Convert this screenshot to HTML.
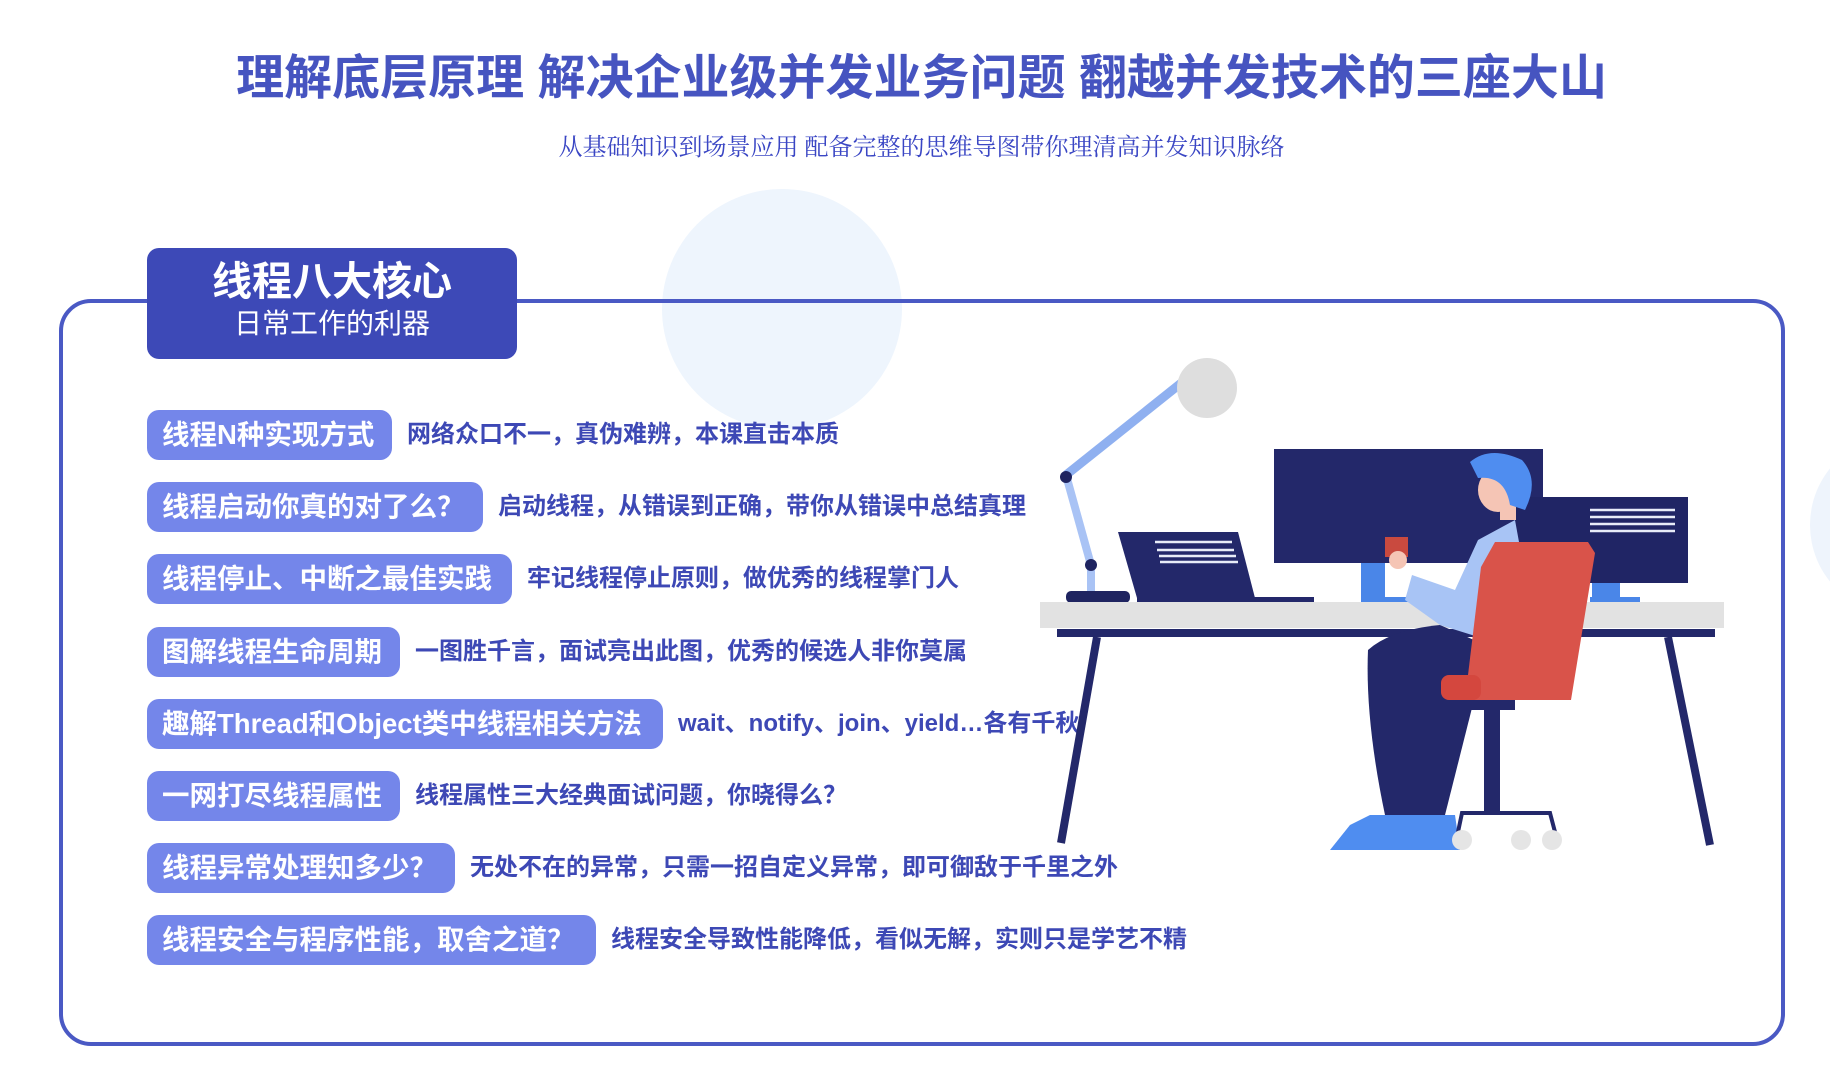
<!DOCTYPE html>
<html><head><meta charset="utf-8"><style>
body{margin:0;width:1830px;height:1074px;background:#fff;position:relative;overflow:hidden;font-family:"Liberation Sans","Noto Sans CJK SC",sans-serif}
.a{position:absolute}
.t{left:0;width:1843px;text-align:center;top:49px;font-size:48px;font-weight:bold;color:#4654c0;line-height:60px;white-space:nowrap}
.s{left:0;width:1843px;text-align:center;top:133px;font-size:24px;color:#3a46c4;line-height:30px;font-family:"Liberation Serif","Noto Serif CJK SC",serif}
.pill{position:absolute;left:147px;height:50px;border-radius:12px;background:#7486ea;color:#fff;font-size:27.5px;font-weight:bold;line-height:50px;padding-left:15px;box-sizing:border-box;white-space:nowrap}
.d{position:absolute;font-size:24px;font-weight:bold;color:#3d48b5;line-height:50px;white-space:nowrap}
</style></head><body>
<div class="a" style="left:662px;top:189px;width:240px;height:240px;border-radius:50%;background:#eef5fd"></div>
<div class="a" style="left:1810px;top:435px;width:180px;height:180px;border-radius:50%;background:#eef4fc"></div>
<div class="a t">理解底层原理 解决企业级并发业务问题 翻越并发技术的三座大山</div>
<div class="a s">从基础知识到场景应用 配备完整的思维导图带你理清高并发知识脉络</div>
<div class="a" style="left:59px;top:299px;width:1726px;height:747px;box-sizing:border-box;border:4.5px solid #4a59c4;border-radius:32px"></div>
<div class="a" style="left:147px;top:248px;width:370px;height:111px;background:#3d49b7;border-radius:12px;color:#fff;text-align:center">
<div style="font-size:40px;font-weight:bold;line-height:44px;margin-top:12px">线程八大核心</div>
<div style="font-size:28px;line-height:34px;margin-top:3px">日常工作的利器</div></div>

<div class="pill" style="top:410px;width:245px">线程N种实现方式</div><div class="d" style="top:410px;left:407px">网络众口不一，真伪难辨，本课直击本质</div>
<div class="pill" style="top:482px;width:336px">线程启动你真的对了么？</div><div class="d" style="top:482px;left:498px">启动线程，从错误到正确，带你从错误中总结真理</div>
<div class="pill" style="top:554px;width:365px">线程停止、中断之最佳实践</div><div class="d" style="top:554px;left:527px">牢记线程停止原则，做优秀的线程掌门人</div>
<div class="pill" style="top:627px;width:253px">图解线程生命周期</div><div class="d" style="top:627px;left:415px">一图胜千言，面试亮出此图，优秀的候选人非你莫属</div>
<div class="pill" style="top:699px;width:516px">趣解Thread和Object类中线程相关方法</div><div class="d" style="top:699px;left:678px">wait、notify、join、yield…各有千秋</div>
<div class="pill" style="top:771px;width:253px">一网打尽线程属性</div><div class="d" style="top:771px;left:415px">线程属性三大经典面试问题，你晓得么？</div>
<div class="pill" style="top:843px;width:308px">线程异常处理知多少？</div><div class="d" style="top:843px;left:470px">无处不在的异常，只需一招自定义异常，即可御敌于千里之外</div>
<div class="pill" style="top:915px;width:449px">线程安全与程序性能，取舍之道？</div><div class="d" style="top:915px;left:611px">线程安全导致性能降低，看似无解，实则只是学艺不精</div>

<svg class="a" style="left:0;top:0" width="1830" height="1074">
<line x1="1066" y1="475" x2="1185" y2="380" stroke="#8fb0f0" stroke-width="9"/>
<line x1="1066" y1="475" x2="1091" y2="565" stroke="#a9c3f5" stroke-width="8"/>
<line x1="1091" y1="565" x2="1091" y2="592" stroke="#a9c3f5" stroke-width="8"/>
<circle cx="1207" cy="388" r="30" fill="#dedede"/>
<circle cx="1066" cy="477" r="6" fill="#1f2460"/>
<circle cx="1091" cy="565" r="6" fill="#1f2460"/>
<rect x="1066" y="591" width="64" height="12" rx="5" fill="#1f2460"/>
<polygon points="1118,532 1238,532 1255,598 1137,598" fill="#23286a"/>
<g stroke="#e8ecf8" stroke-width="2.5"><line x1="1155" y1="542" x2="1232" y2="542"/><line x1="1157" y1="550" x2="1234" y2="550"/><line x1="1159" y1="556" x2="1236" y2="556"/><line x1="1160" y1="562" x2="1238" y2="562"/></g>
<rect x="1137" y="597" width="177" height="5" fill="#23286a"/>
<rect x="1361" y="560" width="24" height="40" fill="#4a86e8"/>
<rect x="1361" y="597" width="104" height="6" fill="#4a86e8"/>
<rect x="1592" y="580" width="28" height="20" fill="#4a86e8"/>
<rect x="1590" y="597" width="50" height="6" fill="#4a86e8"/>
<rect x="1274" y="449" width="269" height="114" fill="#23286a"/>
<rect x="1512" y="497" width="176" height="86" fill="#202565"/>
<g stroke="#e8ecf8" stroke-width="2.5"><line x1="1590" y1="510" x2="1675" y2="510"/><line x1="1590" y1="517" x2="1675" y2="517"/><line x1="1590" y1="524" x2="1675" y2="524"/><line x1="1590" y1="531" x2="1675" y2="531"/></g>
<rect x="1040" y="602" width="684" height="26" fill="#e2e2e2"/>
<rect x="1057" y="629" width="658" height="8" fill="#23286a"/>
<line x1="1097" y1="637" x2="1061" y2="843" stroke="#23286a" stroke-width="8"/>
<line x1="1668" y1="637" x2="1710" y2="845" stroke="#23286a" stroke-width="8"/>
<path d="M1368,650 Q1390,630 1440,625 L1474,640 L1474,700 L1445,815 L1385,815 Q1365,720 1368,650Z" fill="#23286a"/>
<path d="M1330,850 L1350,825 L1370,815 L1455,815 L1460,850Z" fill="#4f8df0"/>
<path d="M1412,575 L1455,590 L1478,540 L1515,520 L1525,575 L1488,640 L1440,625 L1405,600Z" fill="#a8c4f5"/>
<rect x="1385" y="537" width="23" height="20" fill="#c94a3f"/>
<circle cx="1398" cy="560" r="9" fill="#f5c5b5"/>
<rect x="1500" y="495" width="16" height="25" fill="#f5c5b5"/>
<ellipse cx="1498" cy="490" rx="20" ry="22" fill="#f5c5b5"/>
<path d="M1470,462 Q1490,445 1522,460 Q1540,480 1525,510 L1510,505 Q1505,475 1478,478Z" fill="#4f8df0"/>
<polygon points="1495,542 1588,542 1595,553 1571,700 1465,700 1481,567" fill="#d9534a"/>
<rect x="1441" y="675" width="40" height="25" rx="8" fill="#d4473e"/>
<rect x="1470" y="700" width="45" height="10" fill="#23286a"/>
<rect x="1484" y="705" width="16" height="110" fill="#23286a"/>
<path d="M1458,832 L1462,813 L1550,813 L1555,832" fill="none" stroke="#23286a" stroke-width="4"/>
<circle cx="1462" cy="840" r="10" fill="#e5e5e5"/><circle cx="1521" cy="840" r="10" fill="#e5e5e5"/><circle cx="1552" cy="840" r="10" fill="#e5e5e5"/>
</svg>
</body></html>
